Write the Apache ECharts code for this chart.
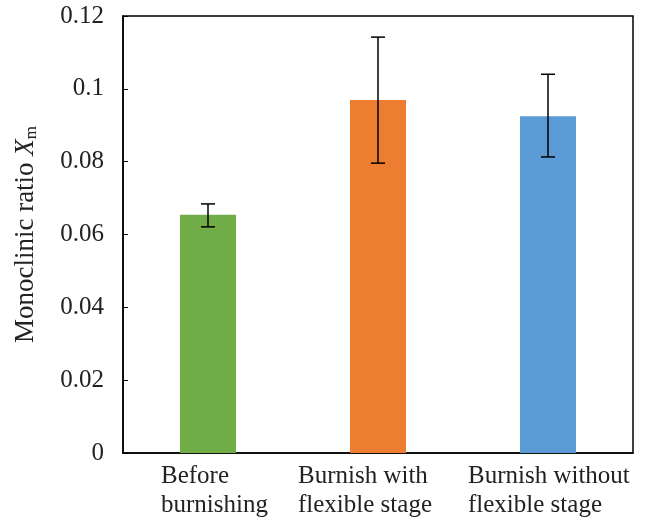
<!DOCTYPE html>
<html><head><meta charset="utf-8">
<script src="https://cdn.jsdelivr.net/npm/echarts@6/dist/echarts.min.js"></script>
<style>html,body{margin:0;padding:0;background:#fff}#c{width:650px;height:521px}</style>
</head><body><div id="c"></div>
<script>
var categories = ['Before\nburnishing', 'Burnish with\nflexible stage', 'Burnish without\nflexible stage'];
var values = [0.0654, 0.0969, 0.0925];
var errLow = [0.0621, 0.0796, 0.0813];
var errHigh = [0.0684, 0.1142, 0.1040];
var colors = ['#70AD47', '#ED7D31', '#5B9BD5'];
var yTicks = [0, 0.02, 0.04, 0.06, 0.08, 0.1, 0.12];

var chart = echarts.init(document.getElementById('c'));
var font = 'Liberation Serif, Times New Roman, serif';
var catStyles = ['a', 'b', 'c'];
var labelRich = {
  a: {fontFamily: font, fontSize: 25, lineHeight: 29, color: '#222', width: 94, align: 'left'},
  b: {fontFamily: font, fontSize: 25, lineHeight: 29, color: '#222', width: 160, align: 'left'},
  c: {fontFamily: font, fontSize: 25, lineHeight: 29, color: '#222', width: 160, align: 'left'}
};
chart.setOption({
  animation: false,
  grid: {left: 123, right: 17, top: 16, bottom: 68, show: true, borderColor: '#000', borderWidth: 1.5, backgroundColor: 'transparent'},
  xAxis: {
    type: 'category', data: categories,
    axisLine: {show: true, lineStyle: {color: '#000', width: 1.5}},
    axisTick: {show: false},
    axisLabel: {
      color: '#222', fontFamily: font, fontSize: 25, lineHeight: 29, margin: 9, interval: 0,
      formatter: function (v, i) {
        var s = catStyles[i];
        return v.split('\n').map(function (line) { return '{' + s + '|' + line + '}'; }).join('\n');
      },
      rich: labelRich
    }
  },
  yAxis: {
    type: 'value', min: 0, max: 0.12, interval: 0.02,
    axisLine: {show: true, lineStyle: {color: '#000', width: 1.5}},
    axisTick: {show: true, inside: true, length: 5, lineStyle: {color: '#000'}},
    splitLine: {show: false},
    axisLabel: {color: '#222', fontFamily: font, fontSize: 25, margin: 19,
      formatter: function (v) { var r = Math.round(v * 100) / 100; return yTicks.indexOf(r) >= 0 ? String(r) : ''; }},
    name: '{n|Monoclinic ratio }{x|X}{s|m}',
    nameLocation: 'middle', nameGap: 83, nameRotate: 90,
    nameTextStyle: {
      rich: {
        n: {fontFamily: font, fontSize: 27, color: '#222'},
        x: {fontFamily: font, fontSize: 27, fontStyle: 'italic', color: '#222'},
        s: {fontFamily: font, fontSize: 17, color: '#222', verticalAlign: 'bottom', padding: [11, 0, 0, 0]}
      }
    }
  },
  series: [
    {
      type: 'bar', barWidth: 56,
      data: values.map(function (v, i) { return {value: v, itemStyle: {color: colors[i]}}; })
    },
    {
      type: 'custom', z: 10,
      data: categories.map(function (c, i) { return [i, errLow[i], errHigh[i]]; }),
      renderItem: function (params, api) {
        var lo = api.coord([api.value(0), api.value(1)]);
        var hi = api.coord([api.value(0), api.value(2)]);
        var hw = 7;
        var st = {stroke: '#000', lineWidth: 1.5};
        return {type: 'group', children: [
          {type: 'line', shape: {x1: hi[0], y1: hi[1], x2: lo[0], y2: lo[1]}, style: st},
          {type: 'line', shape: {x1: hi[0] - hw, y1: hi[1], x2: hi[0] + hw, y2: hi[1]}, style: st},
          {type: 'line', shape: {x1: lo[0] - hw, y1: lo[1], x2: lo[0] + hw, y2: lo[1]}, style: st}
        ]};
      }
    }
  ]
});
</script></body></html>
